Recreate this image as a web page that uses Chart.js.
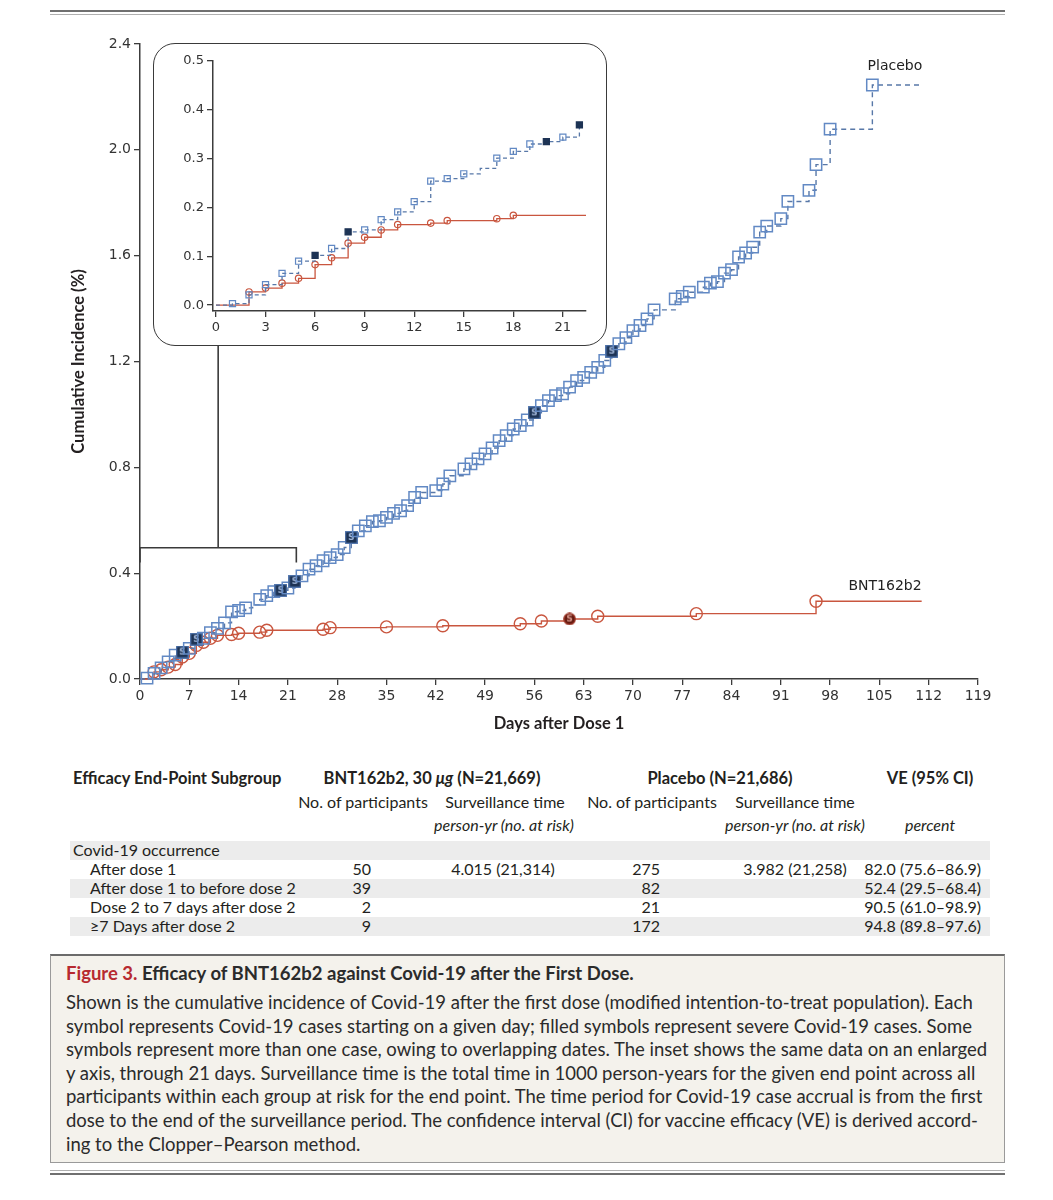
<!DOCTYPE html>
<html><head><meta charset="utf-8">
<script src="https://cdn.jsdelivr.net/npm/chart.js@4.4.1/dist/chart.umd.min.js"></script>
<style>
html,body{margin:0;padding:0;background:#fff;}
body{width:1053px;height:1200px;position:relative;overflow:hidden;font-family:Lato,"Open Sans",sans-serif;color:#231f20;}
.abs{position:absolute;white-space:nowrap;line-height:20px;}
.b{font-weight:bold;}
.i{font-style:italic;}
.band{position:absolute;left:70px;width:920px;height:19px;background:#ececec;}
#caption{position:absolute;left:50px;top:954px;width:955px;height:209px;box-sizing:border-box;background:#f4f2ec;border-top:2px solid #6b6b6b;border-left:1px solid #9a9a9a;border-right:1px solid #9a9a9a;border-bottom:1px solid #9a9a9a;}
.cap{position:absolute;left:15px;white-space:nowrap;font-size:18.5px;line-height:23px;color:#2b2b2b;}
</style></head><body>
<div style="position:absolute;left:50px;top:10px;width:955px;height:2px;background:#707070"></div>
<div style="position:absolute;left:50px;top:14px;width:955px;height:1px;background:#b0b0b0"></div>
<div style="position:absolute;left:50px;top:1170px;width:955px;height:1px;background:#b0b0b0"></div>
<div style="position:absolute;left:50px;top:1173px;width:955px;height:2px;background:#707070"></div>

<div style="position:absolute;left:0;top:0;width:1053px;height:734px"><canvas id="main"></canvas></div>
<div style="position:absolute;left:153px;top:43px;width:454px;height:303px;box-sizing:border-box;border:1.6px solid #3a3a3a;border-radius:22px;background:#fff"></div>
<div style="position:absolute;left:155px;top:45px;width:450px;height:299px"><canvas id="inset"></canvas></div>

<div id="table"></div>
<div id="caption"></div>

<script>
// ---------- data ----------
const placeboDays = [0,1,2,3,4,5,6,7,8,9,10,11,12,13,14,15,16,17,18,19,20,21,22,23,24,25,26,27,28,29,30,31,32,33,34,35,36,37,38,39,40,42,43,44,46,47,48,49,50,51,52,53,54,55,56,57,58,59,60,61,62,63,64,65,66,67,68,69,70,71,72,73,76,77,78,80,81,82,83,84,85,86,87,88,89,91,92,95,96,98,104,111];
const placeboPct  = [0,0.003,0.021,0.042,0.065,0.090,0.102,0.116,0.150,0.154,0.175,0.191,0.212,0.254,0.259,0.269,0.280,0.301,0.315,0.330,0.335,0.344,0.369,0.390,0.415,0.428,0.447,0.459,0.470,0.497,0.535,0.560,0.579,0.595,0.598,0.611,0.626,0.636,0.655,0.686,0.705,0.712,0.737,0.768,0.794,0.813,0.832,0.851,0.873,0.901,0.920,0.945,0.958,0.979,1.006,1.033,1.052,1.071,1.078,1.103,1.128,1.140,1.159,1.178,1.204,1.239,1.267,1.290,1.317,1.336,1.361,1.395,1.437,1.446,1.462,1.481,1.496,1.502,1.534,1.547,1.595,1.610,1.632,1.689,1.712,1.740,1.805,1.847,1.944,2.078,2.245,2.245];
const placeboSevereDays = [6,8,20,22,30,56,67];
const placeboUnmarkedDays = [0,16,111];

const vaccineDays = [0,2,3,4,5,6,7,8,9,10,11,13,14,17,18,26,27,35,43,54,57,61,65,79,96,111];
const vaccinePct  = [0,0.027,0.035,0.045,0.055,0.083,0.097,0.127,0.139,0.154,0.165,0.168,0.173,0.177,0.184,0.188,0.194,0.197,0.201,0.209,0.219,0.227,0.237,0.247,0.294,0.294];
const vaccineSevereDays = [61];
const vaccineUnmarkedDays = [0,111];

const mainXTicks = [0,7,14,21,28,35,42,49,56,63,70,77,84,91,98,105,112,119];
const mainYTicks = [0,0.4,0.8,1.2,1.6,2.0,2.4];
const insetXTicks = [0,3,6,9,12,15,18,21];
const insetYTicks = [0,0.1,0.2,0.3,0.4,0.5];
const insetLastDay = 22;

const seriesNames = ['Placebo','BNT162b2'];
const xTitle = 'Days after Dose 1';
const yTitle = 'Cumulative Incidence (%)';

// table
const tableHead = ['Efficacy End-Point Subgroup','BNT162b2, 30 <i>μg</i> (N=21,669)','Placebo (N=21,686)','VE (95% CI)'];
const tableSub1 = ['No. of participants','Surveillance time','No. of participants','Surveillance time'];
const tableSub2 = ['person-yr (no. at risk)','person-yr (no. at risk)','percent'];
const rowLabels = ['Covid-19 occurrence','After dose 1','After dose 1 to before dose 2','Dose 2 to 7 days after dose 2','≥7 Days after dose 2'];
const vaccineN = ['','50','39','2','9'];
const vaccineTime = ['','4.015 (21,314)','','',''];
const placeboN = ['','275','82','21','172'];
const placeboTime = ['','3.982 (21,258)','','',''];
const veCI = ['','82.0 (75.6–86.9)','52.4 (29.5–68.4)','90.5 (61.0–98.9)','94.8 (89.8–97.6)'];

const captionTitleRed = 'Figure 3.';
const captionTitle = ' Efficacy of BNT162b2 against Covid-19 after the First Dose.';
const captionLines = [
 'Shown is the cumulative incidence of Covid-19 after the first dose (modified intention-to-treat population). Each',
 'symbol represents Covid-19 cases starting on a given day; filled symbols represent severe Covid-19 cases. Some',
 'symbols represent more than one case, owing to overlapping dates. The inset shows the same data on an enlarged',
 'y axis, through 21 days. Surveillance time is the total time in 1000 person-years for the given end point across all',
 'participants within each group at risk for the end point. The time period for Covid-19 case accrual is from the first',
 'dose to the end of the surveillance period. The confidence interval (CI) for vaccine efficacy (VE) is derived accord-',
 'ing to the Clopper–Pearson method.'
];

// annotations (in data units)
const bracket = {leftDay:0, rightDay:22.2, stemDay:11.1, barPct:0.496, footPct:0.44, stemTopPct:1.32};
const labelAnchors = [{day:107.2, pct:2.316},{day:105.8, pct:0.352}];

// ---------- styles ----------
const BLUE = '#6289c4', BLUE_LINE = '#5878a8', NAVY = '#1d3354';
const RED = '#c9563f', DARKRED = '#651a10';
const AXIS = '#3c3c3c';
const TITLEFONT = {family:'Lato, "Open Sans", sans-serif', size:16.5, weight:'bold'};

function severeMarker(shape, size, fill, stroke, letterColor){
  const c = document.createElement('canvas');
  c.width = size; c.height = size;
  const g = c.getContext('2d');
  g.fillStyle = fill; g.strokeStyle = stroke; g.lineWidth = 1.3;
  if (shape === 'rect'){ g.fillRect(0.7,0.7,size-1.4,size-1.4); g.strokeRect(0.7,0.7,size-1.4,size-1.4); }
  else { g.beginPath(); g.arc(size/2,size/2,size/2-0.8,0,Math.PI*2); g.fill(); g.stroke(); }
  g.fillStyle = letterColor; g.font = 'bold 9px "DejaVu Sans"'; g.textAlign='center'; g.textBaseline='middle';
  g.fillText('S', size/2, size/2+0.5);
  return c;
}
const sqS = severeMarker('rect', 13, NAVY, '#4f74ad', '#9fb4d6');
const ciS = severeMarker('circle', 13, DARKRED, '#a0392a', '#d79a8f');

const toPts = (days, vals) => days.map((d,i)=>({x:d, y:vals[i]}));
const placeboPts = toPts(placeboDays, placeboPct);
const vaccinePts = toPts(vaccineDays, vaccinePct);

function scaleCfg(min, max, ticks, fmt, fontSize, extra){
  return Object.assign({
    type:'linear', min, max,
    afterBuildTicks: s => { s.ticks = ticks.map(v=>({value:v})); },
    ticks:{font:{family:'"DejaVu Sans", sans-serif', size:fontSize}, color:'#333', callback:fmt, padding:3, autoSkip:false, maxRotation:0},
    grid:{drawOnChartArea:false, drawTicks:true, tickLength:6, color:AXIS, lineWidth:1.3},
    border:{display:true, color:AXIS, width:1.5}
  }, extra||{});
}

// ---------- main chart ----------
const annotate = {
  id:'annotate',
  afterDatasetsDraw(chart){
    const {ctx} = chart, xs = chart.scales.x, ys = chart.scales.y;
    ctx.save();
    ctx.strokeStyle = '#3a3a3a'; ctx.lineWidth = 1.6;
    const xl = xs.getPixelForValue(bracket.leftDay), xr = xs.getPixelForValue(bracket.rightDay), xm = xs.getPixelForValue(bracket.stemDay);
    const yb = ys.getPixelForValue(bracket.barPct), yf = ys.getPixelForValue(bracket.footPct), yt = ys.getPixelForValue(bracket.stemTopPct);
    ctx.beginPath();
    ctx.moveTo(xl, yf); ctx.lineTo(xl, yb); ctx.lineTo(xr, yb); ctx.lineTo(xr, yf);
    ctx.moveTo(xm, yb); ctx.lineTo(xm, yt);
    ctx.stroke();
    ctx.fillStyle = '#222'; ctx.font = '14px "DejaVu Sans", sans-serif'; ctx.textAlign='center'; ctx.textBaseline='middle';
    labelAnchors.forEach((a,i)=> ctx.fillText(seriesNames[i], xs.getPixelForValue(a.day), ys.getPixelForValue(a.pct)));
    ctx.restore();
  }
};

new Chart(document.getElementById('main'), {
  type:'line',
  data:{datasets:[
    {label:seriesNames[0], data:placeboPts, stepped:true, borderColor:BLUE_LINE, borderWidth:1.4, borderDash:[5,4], fill:false, clip:false,
     pointStyle: c => placeboSevereDays.includes(c.raw.x) ? sqS : 'rect',
     pointRadius: c => placeboUnmarkedDays.includes(c.raw.x) ? 0 : 8,
     pointBorderColor:BLUE, pointBorderWidth:1.5, pointBackgroundColor:'rgba(255,255,255,0)'},
    {label:seriesNames[1], data:vaccinePts, stepped:true, borderColor:RED, borderWidth:1.4, fill:false, clip:false,
     pointStyle: c => vaccineSevereDays.includes(c.raw.x) ? ciS : 'circle',
     pointRadius: c => vaccineUnmarkedDays.includes(c.raw.x) ? 0 : 6,
     pointBorderColor:RED, pointBorderWidth:1.4, pointBackgroundColor:'rgba(255,255,255,0)'}
  ]},
  options:{
    responsive:true, maintainAspectRatio:false, animation:false, events:[],
    layout:{padding:{left:69, right:75, top:44, bottom:0}},
    plugins:{legend:{display:false}, tooltip:{enabled:false}},
    scales:{
      x: scaleCfg(0, 119, mainXTicks, v=>String(v), 14, {
        afterFit: s => { s.height = 55; },
        title:{display:true, text:xTitle, color:'#231f20', padding:0, font:TITLEFONT}
      }),
      y: scaleCfg(0, 2.4, mainYTicks, v=>v.toFixed(1), 14, {
        afterFit: s => { s.width = 71; },
        title:{display:true, text:yTitle, color:'#231f20', padding:0, font:TITLEFONT}
      })
    }
  },
  plugins:[annotate]
});

// ---------- inset chart ----------
new Chart(document.getElementById('inset'), {
  type:'line',
  data:{datasets:[
    {data:placeboPts.filter(p=>p.x<=insetLastDay), stepped:true, borderColor:BLUE_LINE, borderWidth:1.3, borderDash:[4,3], fill:false, clip:false,
     pointStyle:'rect',
     pointRadius: c => placeboUnmarkedDays.includes(c.raw.x) ? 0 : 4.3,
     pointBorderColor: c => placeboSevereDays.includes(c.raw.x) ? NAVY : BLUE, pointBorderWidth:1.2,
     pointBackgroundColor: c => placeboSevereDays.includes(c.raw.x) ? NAVY : 'rgba(255,255,255,0)'},
    {data:vaccinePts, stepped:true, borderColor:RED, borderWidth:1.3, fill:false, clip:{left:10, top:10, bottom:10, right:0},
     pointStyle:'circle',
     pointRadius: c => vaccineUnmarkedDays.includes(c.raw.x) ? 0 : 3.2,
     pointBorderColor:RED, pointBorderWidth:1.2, pointBackgroundColor:'rgba(255,255,255,0)'}
  ]},
  options:{
    responsive:true, maintainAspectRatio:false, animation:false, events:[],
    layout:{padding:{left:0, right:19, top:16, bottom:0}},
    plugins:{legend:{display:false}, tooltip:{enabled:false}},
    scales:{
      x: scaleCfg(-0.18, 22.4, insetXTicks, v=>String(v), 13, {afterFit: s => { s.height = 33; }}),
      y: scaleCfg(-0.012, 0.5, insetYTicks, v=>v.toFixed(1), 13, {afterFit: s => { s.width = 58; }})
    }
  }
});

// ---------- table ----------
const T = document.getElementById('table');
function put(html, x, yc, align, cls, size){
  const d = document.createElement('div');
  d.className = 'abs ' + (cls||'');
  d.innerHTML = html;
  d.style.top = (yc - 10) + 'px';
  d.style.fontSize = (size||16) + 'px';
  if (align === 'left') d.style.left = x + 'px';
  else if (align === 'right') d.style.right = (1053 - x) + 'px';
  else { d.style.left = x + 'px'; d.style.transform = 'translateX(-50%)'; }
  T.appendChild(d);
}
[841, 879, 917].forEach(y => { const b = document.createElement('div'); b.className='band'; b.style.top = y+'px'; T.appendChild(b); });
put(tableHead[0], 73, 778, 'left', 'b', 16.5);
put(tableHead[1], 432, 778, 'center', 'b', 16.5);
put(tableHead[2], 720, 778, 'center', 'b', 16.5);
put(tableHead[3], 930, 778, 'center', 'b', 16.5);
put(tableSub1[0], 363, 802, 'center');
put(tableSub1[1], 505, 802, 'center');
put(tableSub1[2], 652, 802, 'center');
put(tableSub1[3], 795, 802, 'center');
put(tableSub2[0], 504, 825, 'center', 'i');
put(tableSub2[1], 795, 825, 'center', 'i');
put(tableSub2[2], 930, 825, 'center', 'i');
const rowY = [850, 869, 888, 907, 926];
rowLabels.forEach((lab, i) => {
  const y = rowY[i];
  put(lab, i === 0 ? 73 : 90, y, 'left');
  if (vaccineN[i]) put(vaccineN[i], 371, y, 'right');
  if (vaccineTime[i]) put(vaccineTime[i], 503, y, 'center');
  if (placeboN[i]) put(placeboN[i], 660, y, 'right');
  if (placeboTime[i]) put(placeboTime[i], 795, y, 'center');
  if (veCI[i]) put(veCI[i], 981, y, 'right');
});

// ---------- caption ----------
const C = document.getElementById('caption');
const t = document.createElement('div');
t.className = 'cap b'; t.style.top = '6px';
t.innerHTML = '<span style="color:#b72a30">' + captionTitleRed + '</span>' + captionTitle;
C.appendChild(t);
captionLines.forEach((ln, i) => {
  const d = document.createElement('div');
  d.className = 'cap'; d.style.top = (35 + i * 23.6) + 'px';
  d.textContent = ln; C.appendChild(d);
});
</script>
</body></html>
